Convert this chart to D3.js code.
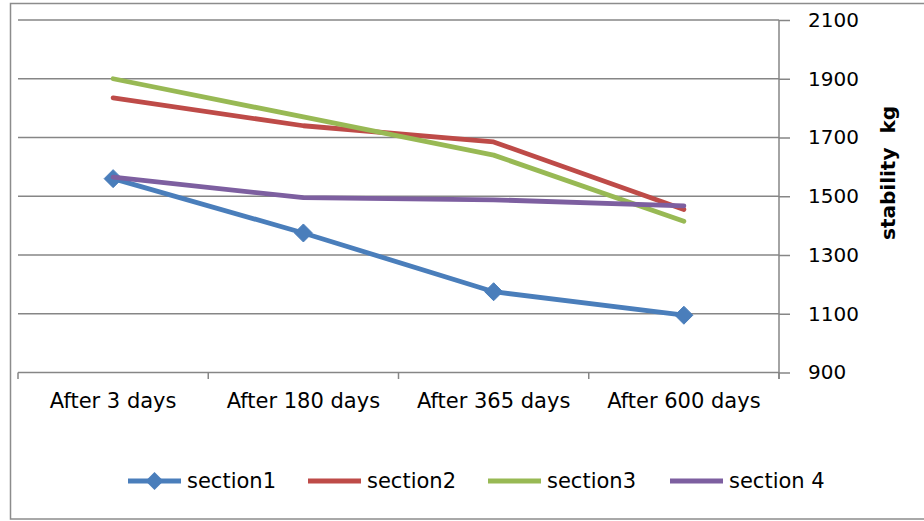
<!DOCTYPE html>
<html>
<head>
<meta charset="utf-8">
<script src="https://cdn.jsdelivr.net/npm/d3@7/dist/d3.min.js"></script>
<style>
  html, body { margin: 0; padding: 0; background: #fff; }
  svg { display: block; }
  text { font-family: "DejaVu Sans", sans-serif; fill: #000; }
</style>
</head>
<body>
<svg id="chart" width="924" height="521"></svg>
<script>
// Stability readings per section over time
const categories = ["After 3 days", "After 180 days", "After 365 days", "After 600 days"];
const section1 = [1560, 1375, 1175, 1095];
const section2 = [1835, 1740, 1685, 1455];
const section3 = [1900, 1770, 1640, 1415];
const section4 = [1565, 1495, 1488, 1467];
const seriesNames = ["section1", "section2", "section3", "section 4"];
const yTicks = [900, 1100, 1300, 1500, 1700, 1900, 2100];
const yTitle = "stability  kg";

const colors = ["#4A7EBB", "#BE4B48", "#98B954", "#7D5FA0"];
const series = [section1, section2, section3, section4].map((values, i) => ({
  name: seriesNames[i], values, color: colors[i], marker: i === 0
}));

const svg = d3.select("#chart");
const plotLeft = 18, plotRight = 779, plotTop = 20, plotBottom = 372.5;

const x = d3.scaleBand().domain(categories).range([plotLeft, plotRight]);
const y = d3.scaleLinear().domain([900, 2100]).range([plotBottom, plotTop]);

// outer frame
svg.append("rect")
  .attr("x", 10.5).attr("y", 3.5)
  .attr("width", 930).attr("height", 515.5)
  .attr("fill", "none").attr("stroke", "#8c8c8c").attr("stroke-width", 1.5);

// horizontal gridlines
svg.append("g").selectAll("line")
  .data(yTicks.filter(t => t !== 900))
  .join("line")
  .attr("x1", plotLeft).attr("x2", plotRight)
  .attr("y1", d => y(d)).attr("y2", d => y(d))
  .attr("stroke", "#868686").attr("stroke-width", 1.5);

// right-hand value axis
const yAxis = d3.axisRight(y).tickValues(yTicks).tickFormat(d3.format("d"))
  .tickSize(11).tickPadding(18).tickSizeOuter(0);
const gy = svg.append("g").attr("transform", `translate(${plotRight},0)`).call(yAxis);
gy.select(".domain").attr("stroke", "#868686").attr("stroke-width", 1.5)
  .attr("d", `M0,${plotTop}V${plotBottom + 6.5}`);
gy.selectAll(".tick line").attr("stroke", "#868686").attr("stroke-width", 1.5);
gy.selectAll(".tick text")
  .attr("x", 29).attr("text-anchor", "start")
  .style("font-family", "'DejaVu Sans', sans-serif")
  .style("font-size", "20px").attr("fill", "#000");

// category axis
const gx = svg.append("g").attr("transform", `translate(0,${plotBottom})`);
gx.append("line").attr("x1", plotLeft).attr("x2", plotRight)
  .attr("stroke", "#868686").attr("stroke-width", 1.5);
const boundaries = categories.map(c => x(c)).concat([plotRight]);
gx.selectAll("line.tk").data(boundaries).join("line").attr("class", "tk")
  .attr("x1", d => d).attr("x2", d => d).attr("y1", 0).attr("y2", 6.5)
  .attr("stroke", "#868686").attr("stroke-width", 1.5);
gx.selectAll("text").data(categories).join("text")
  .attr("x", d => x(d) + x.bandwidth() / 2)
  .attr("y", 35)
  .attr("text-anchor", "middle")
  .style("font-size", "21px")
  .text(d => d);

// axis title
svg.append("text")
  .attr("transform", `translate(895,173) rotate(-90)`)
  .attr("text-anchor", "middle")
  .style("font-size", "20px").style("font-weight", "bold")
  .style("white-space", "pre")
  .text(yTitle);

// series lines
const line = d3.line()
  .x((d, i) => x(categories[i]) + x.bandwidth() / 2)
  .y(d => y(d));

const diamond = r => `M0,${-r}L${r},0L0,${r}L${-r},0Z`;

series.forEach(s => {
  svg.append("path")
    .datum(s.values)
    .attr("d", line)
    .attr("fill", "none")
    .attr("stroke", s.color)
    .attr("stroke-width", 4.8)
    .attr("stroke-linejoin", "round")
    .attr("stroke-linecap", "round");
  if (s.marker) {
    svg.append("g").selectAll("path")
      .data(s.values)
      .join("path")
      .attr("transform", (d, i) => `translate(${x(categories[i]) + x.bandwidth() / 2},${y(d)})`)
      .attr("d", diamond(9))
      .attr("fill", s.color)
      .attr("stroke", s.color)
      .attr("stroke-width", 1);
  }
});

// legend
const legendX = [128, 308, 488, 670];
const legendY = 481;
const lg = svg.append("g");
series.forEach((s, i) => {
  const g = lg.append("g").attr("transform", `translate(${legendX[i]},${legendY})`);
  g.append("line").attr("x1", 0).attr("x2", 53)
    .attr("stroke", s.color).attr("stroke-width", 5);
  if (s.marker) {
    g.append("path").attr("transform", "translate(26.5,0)")
      .attr("d", diamond(9)).attr("fill", s.color);
  }
  g.append("text").attr("x", 59).attr("y", 0)
    .attr("dominant-baseline", "central")
    .style("font-size", "21px")
    .text(s.name);
});
</script>
</body>
</html>
